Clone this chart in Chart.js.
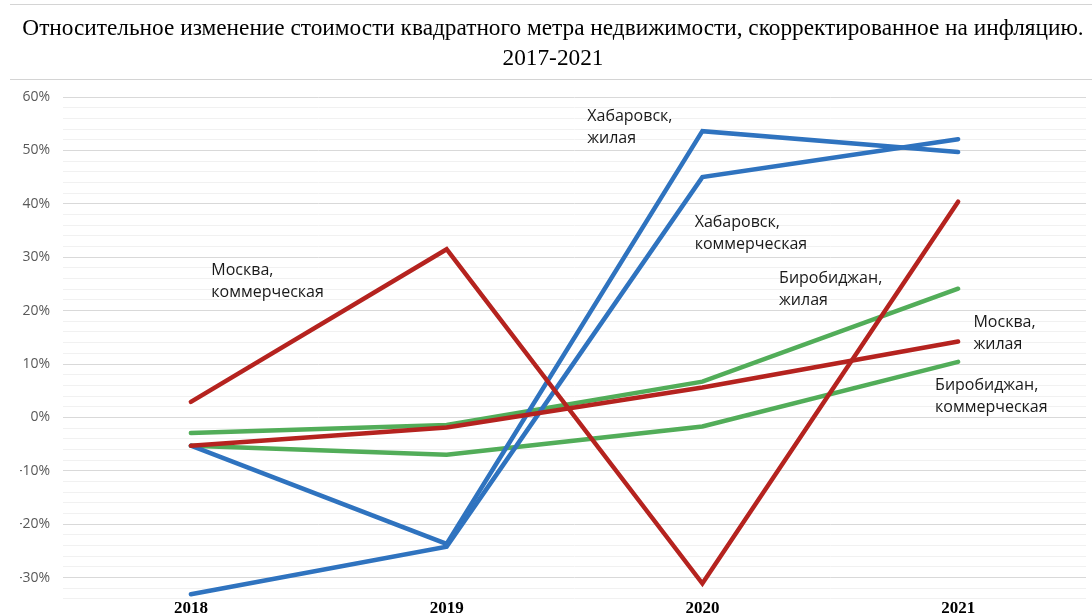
<!DOCTYPE html>
<html lang="ru">
<head>
<meta charset="utf-8">
<title>Относительное изменение стоимости квадратного метра</title>
<script src="https://cdn.jsdelivr.net/npm/chart.js@4/dist/chart.umd.min.js"></script>
<style>
  html, body { margin: 0; padding: 0; background: #fff; overflow: hidden; }
  #wrap { position: relative; width: 1092px; height: 615px; }
  #chart { display: block; }
  .rule { position: absolute; left: 10px; right: 0; height: 0; border-top: 1px solid #d4d4d4; }
</style>
</head>
<body>
<div id="wrap">
  <canvas id="chart" width="1092" height="615"></canvas>
  <div class="rule" style="top:4px"></div>
  <div class="rule" style="top:79px"></div>
</div>
<script>
/* data (percent) */
const years = ["2018", "2019", "2020", "2021"];
const moscowCommercial = [2.9, 31.5, -31.1, 40.4];
const moscowResidential = [-5.3, -1.9, 5.6, 14.2];
const khabResidential = [-5.3, -23.7, 53.6, 49.7];
const khabCommercial = [-33.1, -24.2, 45.0, 52.1];
const biroResidential = [-2.9, -1.4, 6.7, 24.1];
const biroCommercial = [-5.3, -7.0, -1.7, 10.4];

const titleLines = [
  "Относительное изменение стоимости квадратного метра недвижимости, скорректированное на инфляцию.",
  "2017-2021"
];
const seriesNames = [
  ["Москва,", "коммерческая"],
  ["Москва,", "жилая"],
  ["Хабаровск,", "жилая"],
  ["Хабаровск,", "коммерческая"],
  ["Биробиджан,", "жилая"],
  ["Биробиджан,", "коммерческая"]
];

const RED = "#b5231f", BLUE = "#2f73bf", GREEN = "#52ad59";

/* where each series label sits, in chart units (category index, percent) */
const labelSpots = [
  { x: 0.08, y: 27.6 },
  { x: 3.06, y: 17.7 },
  { x: 1.55, y: 56.3 },
  { x: 1.97, y: 36.6 },
  { x: 2.30, y: 26.1 },
  { x: 2.91, y: 5.9 }
];

function line(data, color) {
  return {
    data,
    borderColor: color,
    borderWidth: 4.5,
    borderCapStyle: "round",
    pointRadius: 0,
    tension: 0,
    fill: false
  };
}

// series names next to their lines + the year labels sitting on the bottom edge
const seriesLabels = {
  id: "seriesLabels",
  afterDatasetsDraw(chart) {
    const { ctx, chartArea, scales: { x, y } } = chart;
    const step = x.getPixelForValue(1) - x.getPixelForValue(0);
    ctx.save();
    ctx.font = "16px 'Open Sans'";
    ctx.fillStyle = "#1a1a1a";
    ctx.textAlign = "left";
    ctx.textBaseline = "middle";
    labelSpots.forEach((s, i) => {
      const px = x.getPixelForValue(0) + step * s.x;
      const py = y.getPixelForValue(s.y);
      seriesNames[i].forEach((t, k) => ctx.fillText(t, px, py + k * 22));
    });

    ctx.font = "bold 17px 'Liberation Serif'";
    ctx.fillStyle = "#000";
    ctx.textAlign = "center";
    ctx.textBaseline = "alphabetic";
    years.forEach((yr, i) => ctx.fillText(yr, x.getPixelForValue(i), chartArea.bottom - 2));
    ctx.restore();
  }
};

new Chart(document.getElementById("chart"), {
  type: "line",
  data: {
    labels: years,
    datasets: [
      line(moscowCommercial, RED),
      line(moscowResidential, RED),
      line(khabResidential, BLUE),
      line(khabCommercial, BLUE),
      line(biroResidential, GREEN),
      line(biroCommercial, GREEN)
    ]
  },
  options: {
    responsive: false,
    animation: false,
    layout: { padding: { left: 20, right: 6, top: 0, bottom: 0 } },
    plugins: {
      legend: { display: false },
      tooltip: { enabled: false },
      title: {
        display: true,
        text: titleLines,
        color: "#000",
        font: { family: "'Liberation Serif', serif", size: 23.3, weight: "normal", lineHeight: 30 / 23.3 },
        padding: { top: 14, bottom: 23 }
      }
    },
    scales: {
      x: {
        display: false,
        offset: true
      },
      y: {
        min: -37,
        max: 60,
        afterFit: s => {
          s.width = 43;
          s.paddingTop = 0;
          s.paddingBottom = 0;
        },
        border: { display: false },
        grid: {
          drawTicks: false,
          color: c => (c.tick && c.tick.value % 10 === 0 ? "#d9d9d9" : "#f1f1f1")
        },
        ticks: {
          stepSize: 2,
          autoSkip: false,
          padding: 13,
          color: "#595959",
          font: { family: "'Open Sans'", size: 14 },
          callback: v => (v % 10 === 0 && v >= -30 ? v + "%" : "")
        }
      }
    }
  },
  plugins: [seriesLabels]
});
</script>
</body>
</html>
